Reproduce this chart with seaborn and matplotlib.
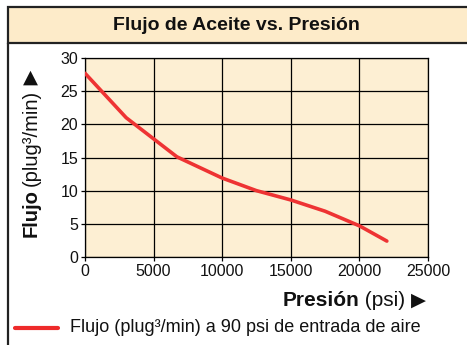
import matplotlib
matplotlib.use("Agg")
import matplotlib.pyplot as plt
import seaborn as sns
import pandas as pd
from matplotlib.patches import Rectangle
from matplotlib.lines import Line2D

pressure = [0, 3000, 6700, 10000, 12500, 15000, 17500, 20000, 22000]
flow = [27.7, 21.0, 15.1, 11.9, 10.0, 8.6, 6.9, 4.7, 2.4]
x_ticks = [0, 5000, 10000, 15000, 20000, 25000]
y_ticks = [0, 5, 10, 15, 20, 25, 30]
title = "Flujo de Aceite vs. Presión"
legend_label = "Flujo (plug³/min) a 90 psi de entrada de aire"

sns.set_theme(style="white")
FAM = ["Liberation Sans", "DejaVu Sans"]
plt.rcParams["font.family"] = FAM

W, H = 467, 345
fig = plt.figure(figsize=(W / 100, H / 100), dpi=100)
fig.patch.set_facecolor("white")

def fx(px):
    return px / W

def fy(py):
    return 1 - py / H

# frame + title band
band = Rectangle((fx(8), fy(43)), 1.2, fy(7) - fy(43), transform=fig.transFigure,
                 facecolor="#FDEBC9", edgecolor="#222222", lw=1.6, zorder=0)
fig.add_artist(band)
fig.add_artist(Line2D([fx(8), fx(8)], [fy(43), -0.1], transform=fig.transFigure,
                      color="#222222", lw=1.6))
fig.text(fx(236), fy(25), title, ha="center", va="center", fontsize=14,
         fontweight="bold", family=FAM, color="#111111")

ax = fig.add_axes([fx(85), fy(257), fx(428) - fx(85), fy(58) - fy(257)])
ax.set_facecolor("#FDEFD3")
df = pd.DataFrame({"Presión": pressure, "Flujo": flow})
sns.lineplot(data=df, x="Presión", y="Flujo", ax=ax, color="#EE3333", lw=2.6,
             zorder=3)
ax.set_xlim(0, 25000)
ax.set_ylim(0, 30)
ax.set_xticks(x_ticks)
ax.set_yticks(y_ticks)
ax.set_xticklabels([str(t) for t in x_ticks])
ax.set_yticklabels([str(t) for t in y_ticks])
ax.get_xticklabels()[0].set_color("#1a66b0")
ax.grid(True, color="black", lw=0.9)
for s in ax.spines.values():
    s.set_color("black")
    s.set_linewidth(0.9)
ax.tick_params(axis="both", which="both", length=3, width=0.9, color="black",
               labelsize=11.5, labelcolor="#111111", pad=2,
               bottom=True, left=True)
ax.set_xlabel("")
ax.set_ylabel("")

fig.canvas.draw()
r = fig.canvas.get_renderer()

# x label: "Presión" bold + " (psi) " + "▶"
tri = fig.text(fx(426), fy(300), "▶", ha="right", va="center",
               fontsize=14, family=["DejaVu Sans"], color="#111111")
bt = tri.get_window_extent(r)
t2 = fig.text(bt.x0 / W, fy(301), " (psi) ", ha="right", va="center",
              fontsize=15, family=FAM, color="#111111")
bb = t2.get_window_extent(r)
fig.text(bb.x0 / W, fy(301), "Presión", ha="right", va="center",
         fontsize=15, fontweight="bold", family=FAM, color="#111111")

# y label rotated: "Flujo" bold then "(plug³/min)" then "▲"
t1 = fig.text(fx(31), fy(237), "Flujo", ha="center", va="bottom", rotation=90,
              fontsize=14.5, fontweight="bold", family=FAM, color="#111111")
bb1 = t1.get_window_extent(r)
t3 = fig.text(fx(31), (bb1.y1 + 3) / H, "(plug³/min)", ha="center", va="bottom",
              rotation=90, fontsize=14.5, family=FAM, color="#111111")
bb3 = t3.get_window_extent(r)
fig.text(fx(30), (bb3.y1 + 3) / H, "▲", ha="center", va="bottom",
         fontsize=14, family=["DejaVu Sans"], color="#111111")

# legend
fig.add_artist(Line2D([fx(15), fx(58)], [fy(328), fy(328)], transform=fig.transFigure,
                      color="#EE2A2A", lw=3))
fig.text(fx(70), fy(327), legend_label, ha="left", va="center", fontsize=13,
         family=FAM, color="#111111")

fig.savefig("out.png", dpi=100)
